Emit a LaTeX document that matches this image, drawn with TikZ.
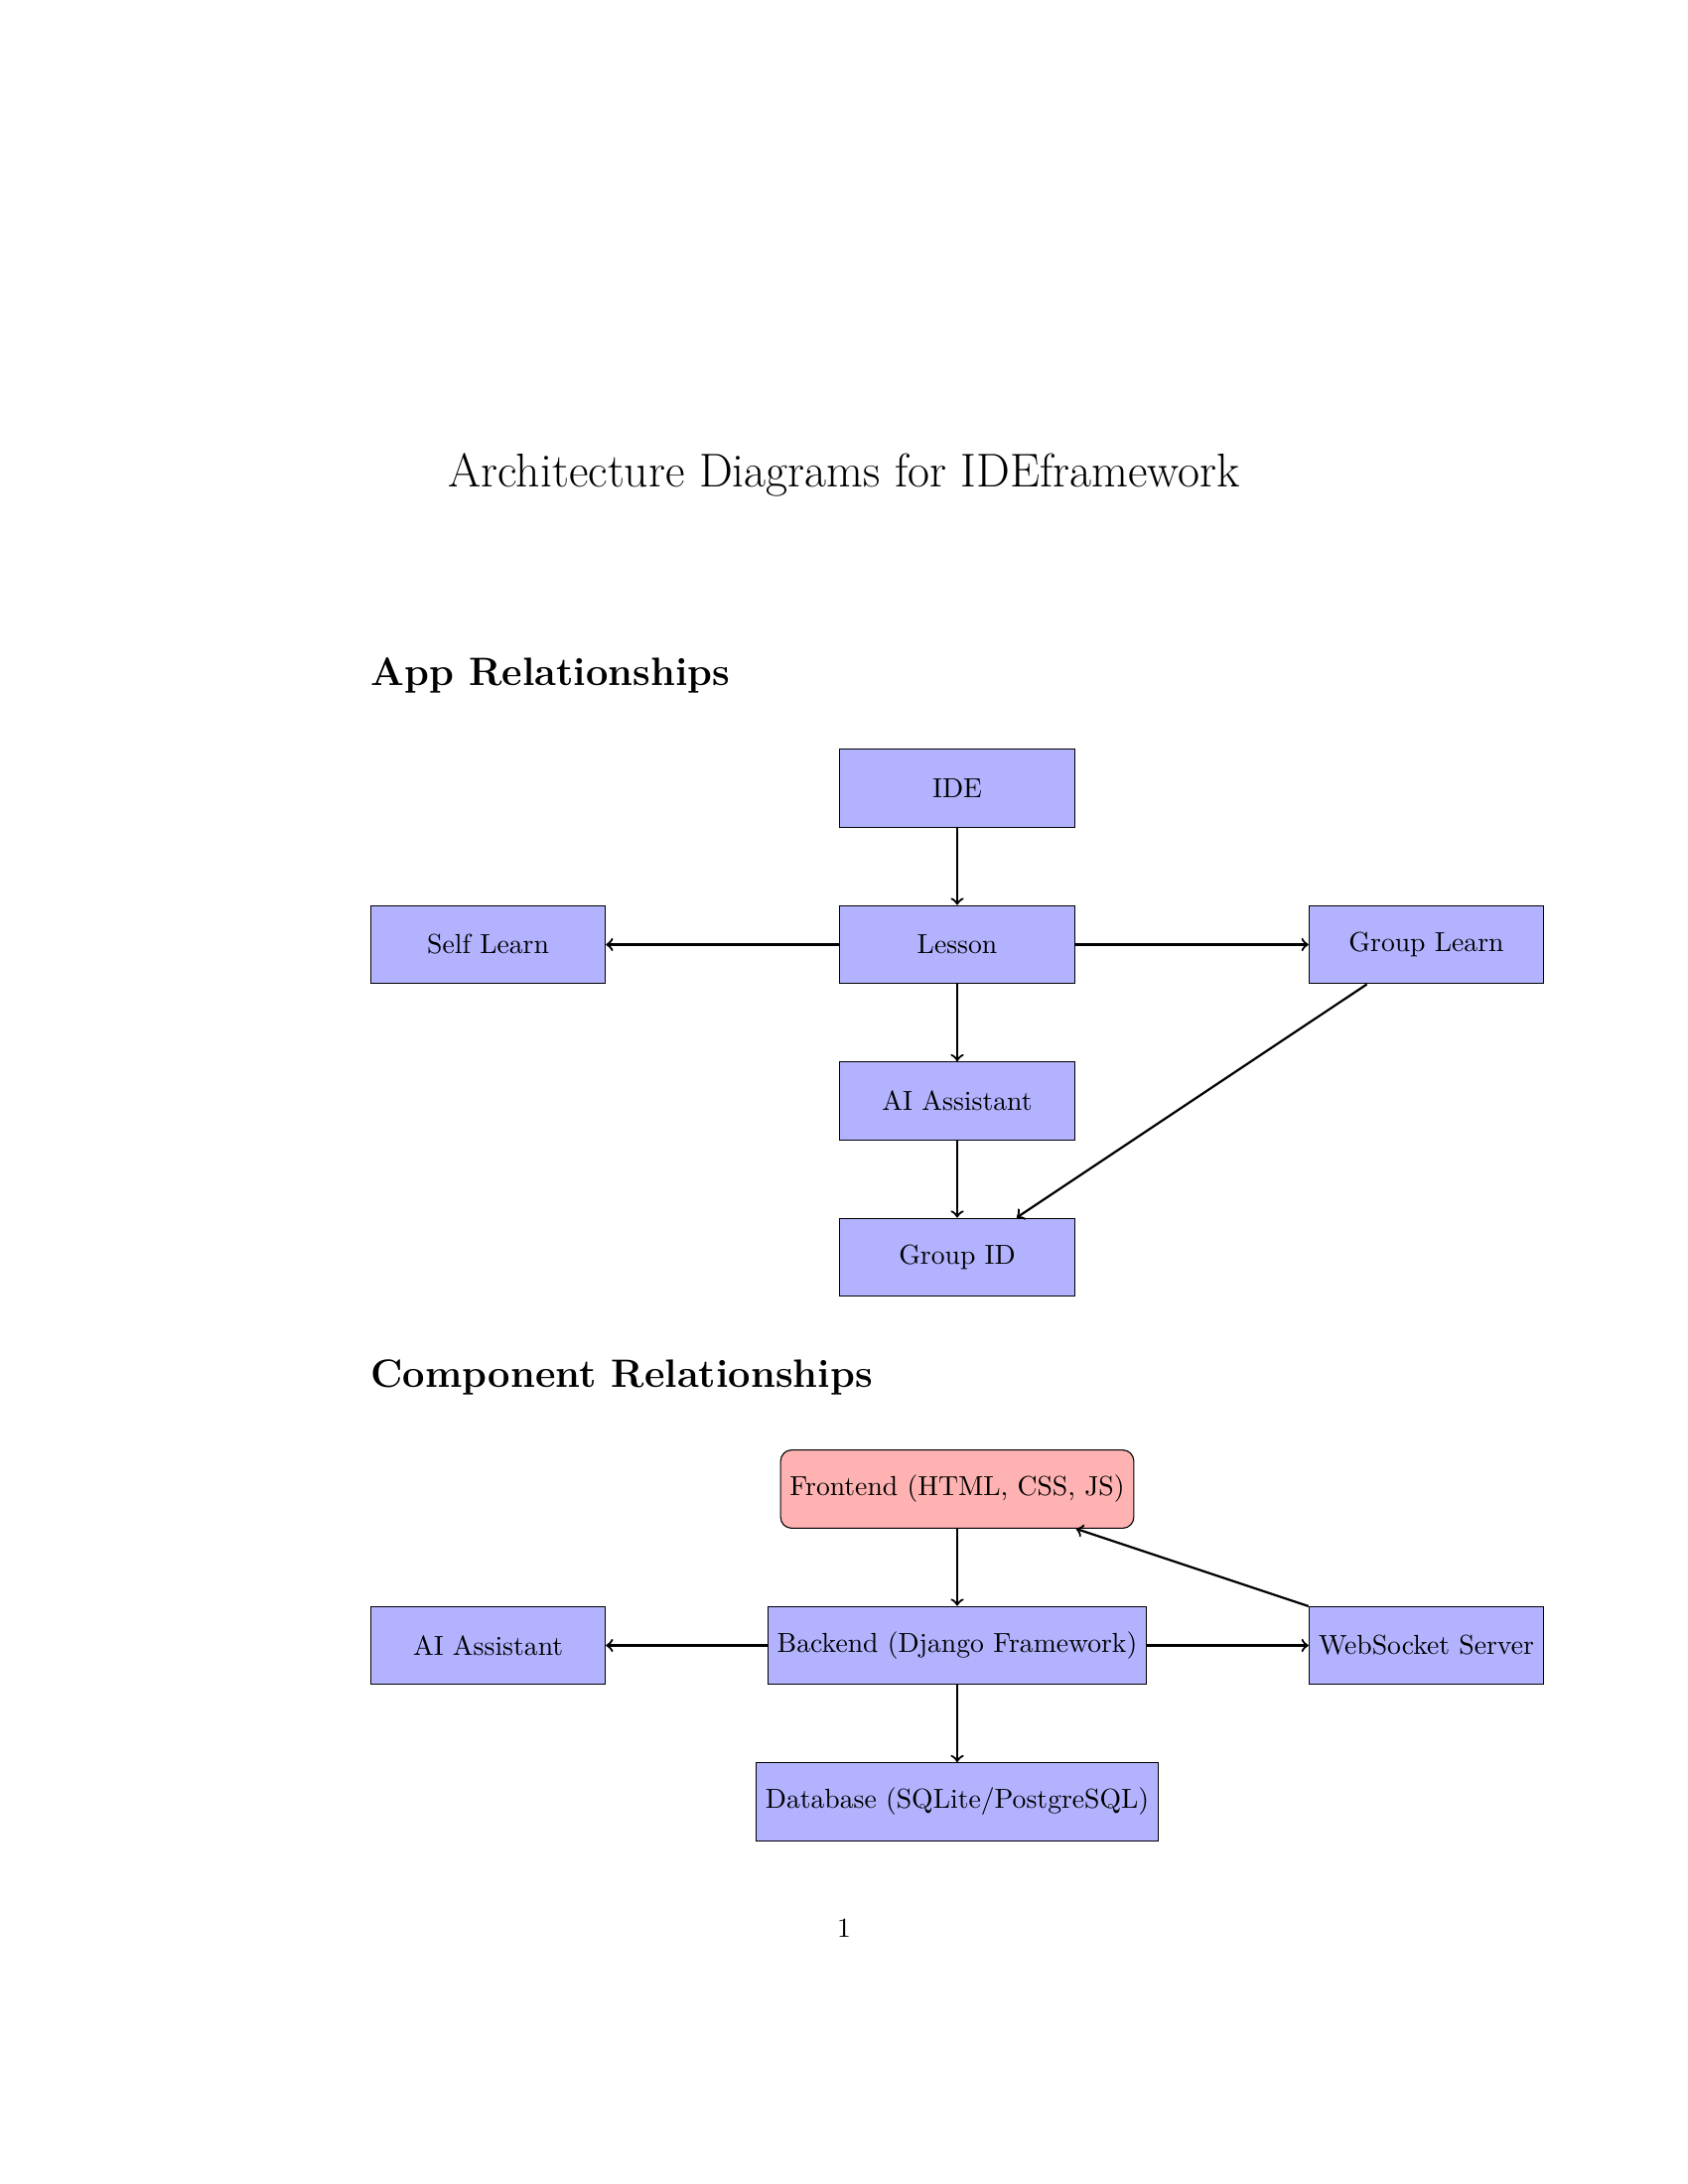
\documentclass[tikz,border=0pt]{standalone}
\usetikzlibrary{positioning}

\begin{document}
\begin{tikzpicture}
\tikzstyle{box}=[rectangle, minimum width = 3cm, minimum height = 1cm, draw =black, fill = blue!30, node distance = 2cm and 6cm, on grid]
\tikzstyle{front}=[box, rounded corners, fill = red!30]
\tikzstyle{connect}=[->, thick]
\tikzstyle{heading}=[anchor=base west, inner sep=0pt, font=\Large\bfseries]
  \useasboundingbox (0,0) rectangle (21.59,-27.94);
  \node[anchor=base, inner sep=0pt, font=\LARGE] (title) at (10.795,-6.223) {Architecture Diagrams for IDEframework};
  % app relationships
  \node[heading] (apphead) at (4.737,-8.763) {App Relationships};
  \node[box] (ide) at (12.243,-10.084) {IDE};
  \node[box] (lesson) [below=of ide] {Lesson};
  \node[box] (self) [left=of lesson] {Self Learn};
  \node[box] (group) [right=of lesson] {Group Learn};
  \node[box] (assist) [below=of lesson] {AI Assistant};
  \node[box] (gid) [below=of assist] {Group ID};
  \path (ide) edge [connect] (lesson)
        (lesson) edge [connect] (self)
        (lesson) edge [connect] (group)
        (lesson) edge [connect] (assist)
        (assist) edge [connect] (gid)
        (group) edge [connect] (gid);
  % component relationships
  \node[heading] (comphead) at (4.737,-17.742) {Component Relationships};
  \node[front] (frontend) at (12.243,-19.05) {Frontend (HTML, CSS, JS)};
  \node[box] (backend) [below=of frontend] {Backend (Django Framework)};
  \node[box] (ai) [left=of backend] {AI Assistant};
  \node[box] (socket) [right=of backend] {WebSocket Server};
  \node[box] (db) [below=of backend] {Database (SQLite/PostgreSQL)};
  \path (frontend) edge [connect] (backend)
        (backend) edge [connect] (ai)
        (backend) edge [connect] (socket)
        (backend) edge [connect] (db)
        (socket) edge [connect] (frontend);
  \node[anchor=base] (pagenum) at (10.795,-24.78) {1};
\end{tikzpicture}
\end{document}
